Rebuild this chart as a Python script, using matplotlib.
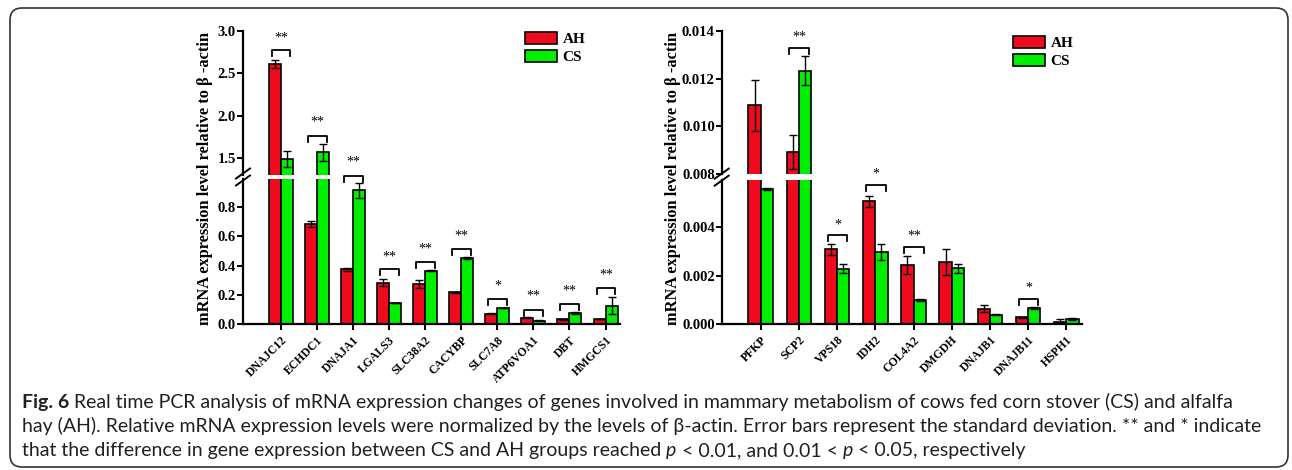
import matplotlib
matplotlib.use("Agg")
import matplotlib.pyplot as plt
from matplotlib.lines import Line2D
from matplotlib.patches import FancyBboxPatch, Patch
from matplotlib.transforms import IdentityTransform
import numpy as np

W, H = 1292, 470

# ---- left panel data ----
left_genes = ["DNAJC12", "ECHDC1", "DNAJA1", "LGALS3", "SLC38A2", "CACYBP",
              "SLC7A8", "ATP6VOA1", "DBT", "HMGCS1"]
left_ah = [2.61, 0.683, 0.375, 0.284, 0.277, 0.217, 0.071, 0.046, 0.035, 0.036]
left_ah_err = [0.05, 0.02, 0.01, 0.025, 0.028, 0.004, 0.003, 0.003, 0.003, 0.003]
left_cs = [1.49, 1.57, 0.913, 0.146, 0.366, 0.453, 0.111, 0.025, 0.077, 0.127]
left_cs_err = [0.09, 0.10, 0.05, 0.002, 0.005, 0.007, 0.003, 0.002, 0.005, 0.06]
left_sig = ["**", "**", "**", "**", "**", "**", "*", "**", "**", "**"]
left_bracket_y = [2.77, 1.76, 1.01, 0.377, 0.426, 0.512, 0.174, 0.097, 0.139, 0.245]
left_star_y = [2.91, 1.92, 1.105, 0.46, 0.515, 0.60, 0.26, 0.19, 0.225, 0.333]

# ---- right panel data ----
right_genes = ["PFKP", "SCP2", "VPS18", "IDH2", "COL4A2", "DMGDH",
               "DNAJB1", "DNAJB11", "HSPH1"]
right_ah = [0.01088, 0.00893, 0.00308, 0.00507, 0.00243, 0.00257,
            0.00065, 0.00029, 0.00010]
right_ah_err = [0.00105, 0.0007, 0.00022, 0.00023, 0.00037, 0.00053,
                0.00016, 0.00003, 0.00012]
right_cs = [0.00557, 0.01233, 0.00229, 0.00298, 0.00101, 0.00230,
            0.00040, 0.00066, 0.00021]
right_cs_err = [0.00003, 0.0006, 0.00018, 0.00032, 0.00004, 0.0002,
                0.00002, 0.00005, 0.00003]
right_sig_idx = [1, 2, 3, 4, 7]
right_sig = ["**", "*", "*", "**", "*"]
right_bracket_y = [0.01329, 0.00367, 0.00575, 0.00319, 0.00104]
right_star_y = [0.01372, 0.00407, 0.00617, 0.00363, 0.00148]

RED = "#f00a1e"
GREEN = "#00ee00"
SERIF = ["Liberation Serif", "DejaVu Serif"]

plt.rcParams["font.family"] = SERIF
plt.rcParams["font.weight"] = "bold"

fig = plt.figure(figsize=(W / 100, H / 100), dpi=100)


def px_axes(x0, x1, y_top, y_bot):
    return fig.add_axes([x0 / W, 1 - y_bot / H, (x1 - x0) / W, (y_bot - y_top) / H])


def panel(x0, x1, up_px, low_px, genes, ah, ah_err, cs, cs_err,
          sig_idx, sig, br_y, st_y, up_lim, low_lim, up_ticks, low_ticks,
          fmt, xlim, width, legend_xy):
    ax_up = px_axes(x0, x1, up_px[0], up_px[1])
    ax_low = px_axes(x0, x1, low_px[0], low_px[1])
    x = np.arange(len(genes))
    for ax in (ax_up, ax_low):
        ax.bar(x - width / 2, ah, width, color=RED, edgecolor="black", linewidth=1.2,
               yerr=ah_err, error_kw=dict(ecolor="black", elinewidth=1, capsize=3, capthick=1))
        ax.bar(x + width / 2, cs, width, color=GREEN, edgecolor="black", linewidth=1.2,
               yerr=cs_err, error_kw=dict(ecolor="black", elinewidth=1, capsize=3, capthick=1))
        ax.set_xlim(*xlim)
        for s in ("top", "right"):
            ax.spines[s].set_visible(False)
        ax.spines["left"].set_linewidth(1.6)
        ax.spines["bottom"].set_linewidth(1.6)
        ax.tick_params(axis="y", direction="out", length=4, width=1.4, labelsize=10.5, pad=1)
        ax.yaxis.set_major_formatter(plt.FormatStrFormatter(fmt))
    ax_up.set_ylim(*up_lim)
    ax_low.set_ylim(*low_lim)
    ax_up.set_yticks(up_ticks)
    ax_low.set_yticks(low_ticks)
    ax_up.spines["bottom"].set_visible(False)
    ax_up.set_xticks([])
    ax_low.set_xticks(x)
    ax_low.set_xticklabels(genes, rotation=45, ha="right", va="top",
                           rotation_mode="anchor", fontsize=8.5)
    ax_low.tick_params(axis="x", direction="out", length=4, width=1.4, pad=3)

    # significance brackets
    for i, s, by, sy in zip(sig_idx, sig, br_y, st_y):
        ax = ax_up if by >= up_lim[0] else ax_low
        pos = ax.get_position()
        leg = 6 / (pos.height * H) * (ax.get_ylim()[1] - ax.get_ylim()[0])
        ax.plot([i - 0.25, i - 0.25, i + 0.27, i + 0.27], [by - leg, by, by, by - leg],
                color="black", lw=1.3, clip_on=False)
        ax.text(i + 0.01, sy, s, ha="center", va="center", fontsize=10,
                fontweight="normal", clip_on=False)

    # axis break marks
    yb = (up_px[1] + low_px[0]) / 2
    for dy in (-3.5, 3.5):
        fig.add_artist(Line2D([(x0 - 7) / W, (x0 + 7) / W],
                              [1 - (yb + dy + 5) / H, 1 - (yb + dy - 5) / H],
                              color="black", lw=1.4))

    handles = [Patch(facecolor=RED, edgecolor="black", linewidth=1.2),
               Patch(facecolor=GREEN, edgecolor="black", linewidth=1.2)]
    ax_up.legend(handles, ["AH", "CS"], loc="upper left",
                 bbox_to_anchor=(legend_xy[0] / W, 1 - legend_xy[1] / H),
                 bbox_transform=fig.transFigure, frameon=False, fontsize=11,
                 handlelength=2.1, handleheight=0.8, labelspacing=0.25,
                 handletextpad=0.35, borderpad=0, borderaxespad=0)
    return ax_up, ax_low


panel(243, 620, (30.7, 175), (179, 324.3), left_genes, left_ah, left_ah_err,
      left_cs, left_cs_err, list(range(len(left_genes))), left_sig,
      left_bracket_y, left_star_y, (1.3, 3.0), (0, 0.99),
      [1.5, 2.0, 2.5, 3.0], [0.0, 0.2, 0.4, 0.6, 0.8], "%.1f",
      (-1.044, 9.4), 0.333, (525, 32))

panel(721.7, 1082, (30.7, 174.3), (180, 324.3), right_genes, right_ah, right_ah_err,
      right_cs, right_cs_err, right_sig_idx, right_sig,
      right_bracket_y, right_star_y, (0.008, 0.014), (0, 0.00594),
      [0.008, 0.010, 0.012, 0.014], [0.000, 0.002, 0.004], "%.3f",
      (-1.02, 8.41), 0.32, (1013, 36))

ylabel = "mRNA expression level relative to \u03b2 -actin"
fig.text(205 / W, 1 - 178 / H, ylabel, rotation=90, ha="center", va="center",
         fontsize=11.8, fontweight="bold")
fig.text(673 / W, 1 - 178 / H, ylabel, rotation=90, ha="center", va="center",
         fontsize=11.8, fontweight="bold")

# caption
CAP = ["Lato", "DejaVu Sans"]
renderer = fig.canvas.get_renderer()

line1 = [("Fig. 6 ", "normal", "bold"),
         ("Real time PCR analysis of mRNA expression changes of genes involved in "
          "mammary metabolism of cows fed corn stover (CS) and alfalfa", "normal", "normal")]
line2 = [("hay (AH). Relative mRNA expression levels were normalized by the levels of "
          "\u03b2-actin. Error bars represent the standard deviation. ** and * indicate",
          "normal", "normal")]
line3 = [("that the difference in gene expression between CS and AH groups reached ",
          "normal", "normal"),
         ("p", "italic", "normal"),
         (" < 0.01, and 0.01 < ", "normal", "normal"),
         ("p", "italic", "normal"),
         (" < 0.05, respectively", "normal", "normal")]


def draw_runs(x_px, y_px, runs, size):
    x = x_px
    for txt, style, weight in runs:
        t = fig.text(x / W, 1 - y_px / H, txt, fontsize=size, family=CAP,
                     style=style, fontweight=weight, va="baseline", ha="left",
                     color="#231f20")
        x += t.get_window_extent(renderer).width
    return x


def line_width(runs, size):
    probe = fig.text(0, 0, "".join(r[0] for r in runs), fontsize=size, family=CAP)
    w = probe.get_window_extent(renderer).width
    probe.remove()
    return w


# size the caption so that the widest line spans the box like the reference
cap_size = 12 * 1244 / max(line_width(line1, 12), line_width(line2, 12))

draw_runs(22, 408, line1, cap_size)
draw_runs(22, 432, line2, cap_size)
draw_runs(22, 456, line3, cap_size)

border = FancyBboxPatch((10, 3), 1278, 459, boxstyle="round,pad=0,rounding_size=12",
                        transform=IdentityTransform(), fill=False,
                        edgecolor="#333333", linewidth=1.2)
fig.patches.append(border)

fig.savefig("out.png", dpi=100)
